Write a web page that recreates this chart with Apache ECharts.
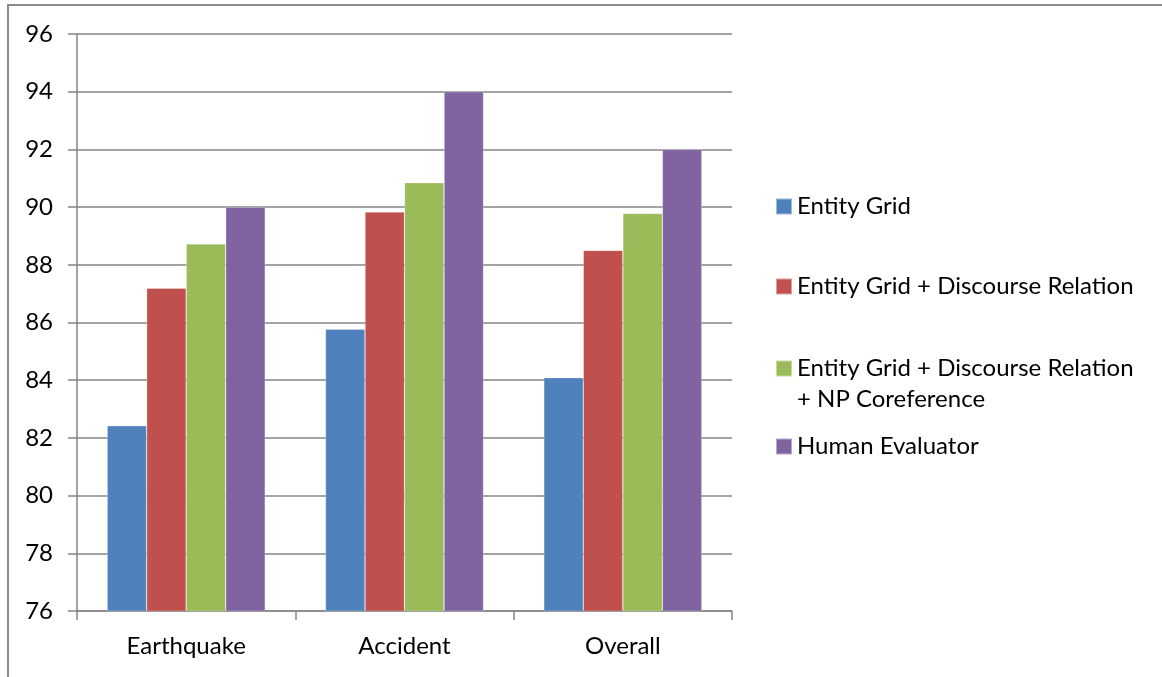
<!DOCTYPE html>
<html>
<head>
<meta charset="utf-8">
<script src="https://cdn.jsdelivr.net/npm/echarts@6/dist/echarts.min.js"></script>
<style>
  html, body { margin: 0; padding: 0; background: #fff; }
  #chart { width: 1162px; height: 677px; }
</style>
</head>
<body>
<div id="chart"></div>
<script>
// Coherence evaluation accuracy by data set
const categories = ['Earthquake', 'Accident', 'Overall'];
const seriesNames = [
  'Entity Grid',
  'Entity Grid + Discourse Relation',
  'Entity Grid + Discourse Relation + NP Coreference',
  'Human Evaluator'
];
const entityGrid = [82.42, 85.77, 84.09];
const entityGridDiscourse = [87.19, 89.83, 88.5];
const entityGridDiscourseNP = [88.72, 90.85, 89.78];
const humanEvaluator = [90.0, 94.0, 92.0];
const yTicks = [76, 78, 80, 82, 84, 86, 88, 90, 92, 94, 96];

const seriesValues = [entityGrid, entityGridDiscourse, entityGridDiscourseNP, humanEvaluator];
const colors = ['#4F81BD', '#C0504D', '#9BBB59', '#8064A2'];
const FONT = 'Lato';
const FONT_SIZE = 24;
const axisGrey = '#868686';

const chart = echarts.init(document.getElementById('chart'));

// one legend block per series so the vertical spacing can follow the layout;
// the wrapped entry gets a blank first line so its swatch sits on the first text line
const legendTops = [191, 271, 322, 431];
const legends = seriesNames.map((name, i) => {
  const wrapped = i === 2;
  return {
    data: [name],
    orient: 'vertical',
    left: 775,
    top: legendTops[i],
    padding: 0,
    itemWidth: 16,
    itemHeight: 16,
    icon: 'rect',
    selectedMode: false,
    formatter: wrapped
      ? () => ' \nEntity Grid + Discourse Relation\n+ NP Coreference'
      : undefined,
    textStyle: {
      fontFamily: FONT,
      fontSize: FONT_SIZE,
      color: '#000',
      lineHeight: 31
    }
  };
});

chart.setOption({
  animation: false,
  color: colors,
  textStyle: { fontFamily: FONT },
  graphic: [{
    type: 'rect',
    shape: { x: 8, y: 5, width: 1300, height: 800 },
    style: { fill: 'none', stroke: '#8a8a8a', lineWidth: 2 },
    silent: true
  }],
  legend: legends,
  grid: { left: 77, right: 430, top: 34, bottom: 66, containLabel: false },
  xAxis: {
    type: 'category',
    data: categories,
    axisLine: { lineStyle: { color: axisGrey, width: 1.5 } },
    axisTick: { show: true, length: 9, lineStyle: { color: axisGrey, width: 1.5 } },
    axisLabel: { color: '#000', fontSize: FONT_SIZE, fontFamily: FONT, margin: 23 }
  },
  yAxis: {
    type: 'value',
    min: yTicks[0],
    max: yTicks[yTicks.length - 1],
    interval: yTicks[1] - yTicks[0],
    axisLine: { show: true, lineStyle: { color: axisGrey, width: 1.5 } },
    axisTick: { show: true, length: 9, lineStyle: { color: axisGrey, width: 1.5 } },
    splitLine: { lineStyle: { color: axisGrey, width: 1.5 } },
    axisLabel: { color: '#000', fontSize: FONT_SIZE, fontFamily: FONT, margin: 24 }
  },
  series: seriesNames.map((name, i) => ({
    name: name,
    type: 'bar',
    data: seriesValues[i],
    barGap: '0%',
    barCategoryGap: '27.6%',
    itemStyle: { color: colors[i], borderColor: 'rgba(255,255,255,0.45)', borderWidth: 0.6 }
  }))
});
</script>
</body>
</html>
